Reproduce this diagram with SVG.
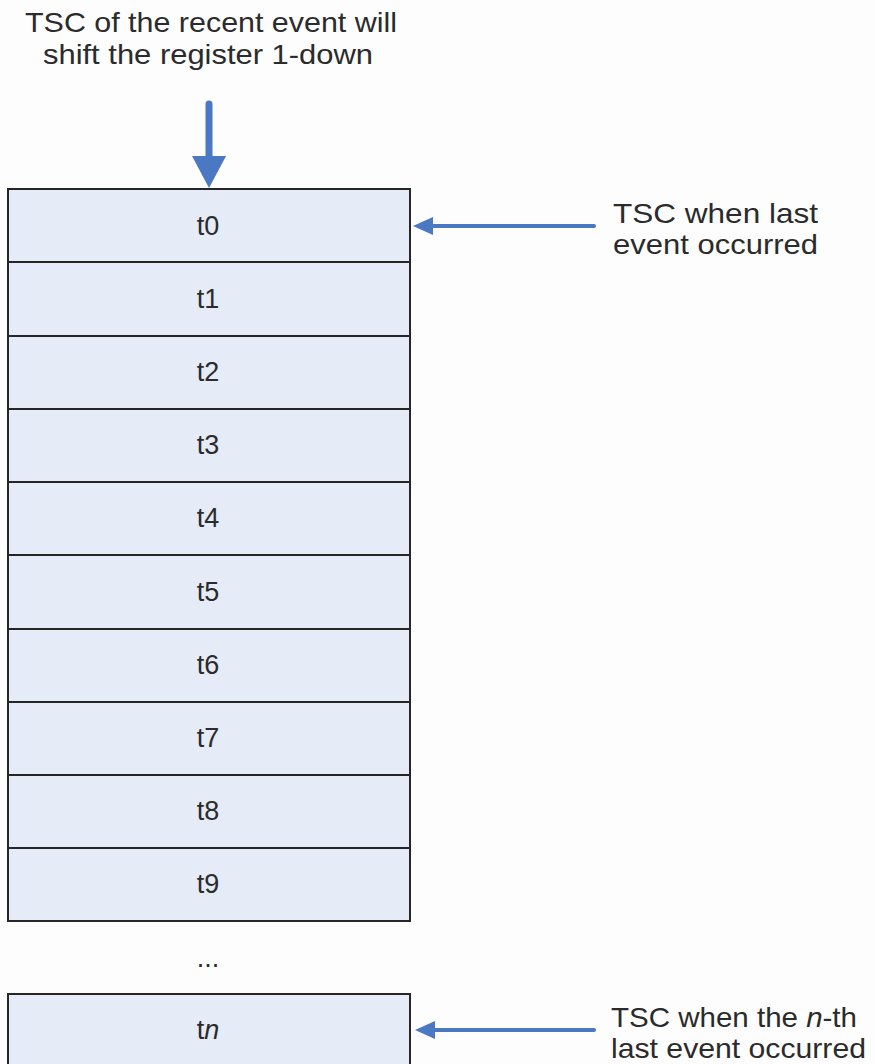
<svg xmlns="http://www.w3.org/2000/svg" width="875" height="1064" viewBox="0 0 875 1064">
<style>
.cell{fill:#e6ecf7;stroke:#262626;stroke-width:2}
.lbl{font-family:"Liberation Sans",Arial,sans-serif;font-size:27px;fill:#2b2b2b;text-anchor:middle}
.txt{font-family:"Liberation Sans",Arial,sans-serif;font-size:28px;fill:#2b2b2b}
.arr{stroke:#4a78c2;fill:none;stroke-linecap:round}
.head{fill:#4a78c2}
</style>
<rect width="875" height="1064" fill="#fdfdfd"/>
<g id="title"><text class="txt" x="25" y="32" textLength="372" lengthAdjust="spacingAndGlyphs">TSC of the recent event will</text><text class="txt" x="43" y="64" textLength="330" lengthAdjust="spacingAndGlyphs">shift the register 1-down</text></g>
<g id="t0"><rect class="cell" x="8" y="189" width="402" height="73"/><text class="lbl" x="208" y="235">t0</text></g>
<g id="t1"><rect class="cell" x="8" y="262" width="402" height="74"/><text class="lbl" x="208" y="308">t1</text></g>
<g id="t2"><rect class="cell" x="8" y="336" width="402" height="73"/><text class="lbl" x="208" y="381">t2</text></g>
<g id="t3"><rect class="cell" x="8" y="409" width="402" height="73"/><text class="lbl" x="208" y="454">t3</text></g>
<g id="t4"><rect class="cell" x="8" y="482" width="402" height="73"/><text class="lbl" x="208" y="527">t4</text></g>
<g id="t5"><rect class="cell" x="8" y="555" width="402" height="74"/><text class="lbl" x="208" y="601">t5</text></g>
<g id="t6"><rect class="cell" x="8" y="629" width="402" height="73"/><text class="lbl" x="208" y="674">t6</text></g>
<g id="t7"><rect class="cell" x="8" y="702" width="402" height="73"/><text class="lbl" x="208" y="747">t7</text></g>
<g id="t8"><rect class="cell" x="8" y="775" width="402" height="73"/><text class="lbl" x="208" y="820">t8</text></g>
<g id="t9"><rect class="cell" x="8" y="848" width="402" height="73"/><text class="lbl" x="208" y="893">t9</text></g>
<g id="dots"><text class="lbl" x="208" y="967">...</text></g>
<g id="tn"><rect class="cell" x="8" y="994" width="402" height="80"/><text class="lbl" x="208" y="1039">t<tspan font-style="italic">n</tspan></text></g>
<g id="note-last"><text class="txt" x="613" y="223" textLength="205" lengthAdjust="spacingAndGlyphs">TSC when last</text><text class="txt" x="613" y="254" textLength="205" lengthAdjust="spacingAndGlyphs">event occurred</text></g>
<g id="note-nth"><text class="txt" x="611" y="1027" textLength="246" lengthAdjust="spacingAndGlyphs">TSC when the <tspan font-style="italic">n</tspan>-th</text><text class="txt" x="611" y="1058" textLength="255" lengthAdjust="spacingAndGlyphs">last event occurred</text></g>
<g id="connectors">
<line class="arr" x1="209" y1="104" x2="209" y2="160" stroke-width="7"/>
<polygon class="head" points="192,156 226,156 209,188"/>
<line class="arr" x1="594" y1="226" x2="430" y2="226" stroke-width="4"/>
<polygon class="head" points="433,217 433,235 413,226"/>
<line class="arr" x1="594" y1="1030" x2="432" y2="1030" stroke-width="4"/>
<polygon class="head" points="435,1021 435,1039 415,1030"/>
</g>
</svg>
